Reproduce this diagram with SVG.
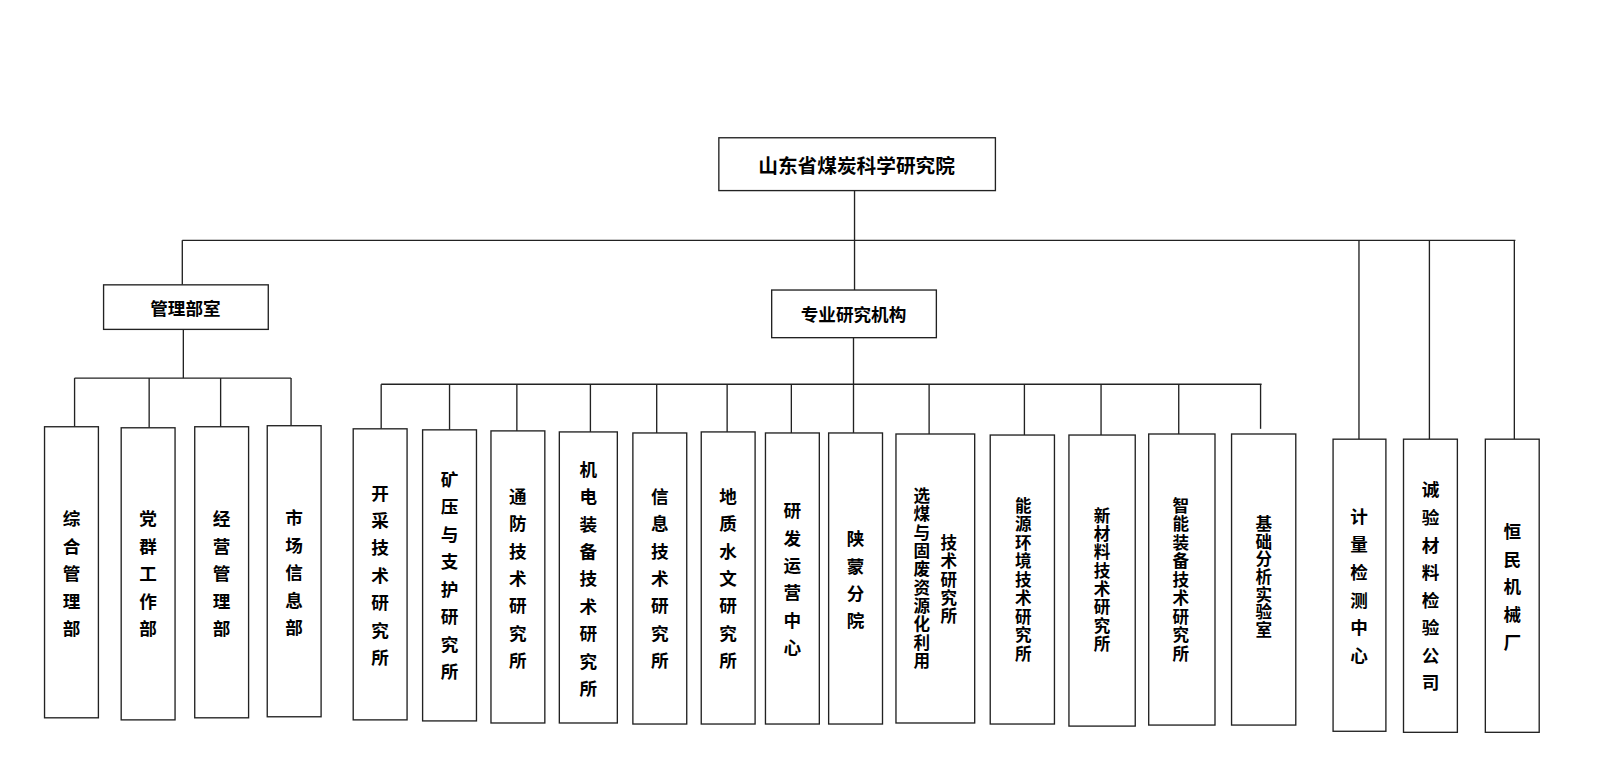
<svg xmlns="http://www.w3.org/2000/svg" width="1621" height="778" viewBox="0 0 1621 778">
<style>
rect{fill:#fff;stroke:#222;stroke-width:1.3}
line{stroke:#222;stroke-width:1.3}
text{font-family:"Noto Sans CJK SC",sans-serif;font-weight:bold;font-size:17px;fill:#000;text-anchor:middle;dominant-baseline:central}
.d text{font-size:16px}
</style>
<rect x="0" y="0" width="1621" height="778" style="fill:#fff;stroke:none"/>
<g transform="scale(1.0358)">
<g id="connectors">
<line x1="825" y1="184" x2="825" y2="232"/>
<line x1="176" y1="232" x2="1463" y2="232"/>
<line x1="176" y1="232" x2="176" y2="275"/>
<line x1="825" y1="232" x2="825" y2="280"/>
<line x1="1312" y1="232" x2="1312" y2="424"/>
<line x1="1380" y1="232" x2="1380" y2="424"/>
<line x1="1462" y1="232" x2="1462" y2="424"/>
<line x1="177" y1="318" x2="177" y2="365"/>
<line x1="72" y1="365" x2="281" y2="365"/>
<line x1="72" y1="365" x2="72" y2="412"/>
<line x1="144" y1="365" x2="144" y2="413"/>
<line x1="213" y1="365" x2="213" y2="412"/>
<line x1="281" y1="365" x2="281" y2="411"/>
<line x1="824" y1="326" x2="824" y2="371"/>
<line x1="368" y1="371" x2="1218" y2="371"/>
<line x1="368" y1="371" x2="368" y2="414"/>
<line x1="434" y1="371" x2="434" y2="415"/>
<line x1="499" y1="371" x2="499" y2="416"/>
<line x1="570" y1="371" x2="570" y2="417"/>
<line x1="634" y1="371" x2="634" y2="418"/>
<line x1="702" y1="371" x2="702" y2="417"/>
<line x1="764" y1="371" x2="764" y2="418"/>
<line x1="824" y1="371" x2="824" y2="418"/>
<line x1="897" y1="371" x2="897" y2="419"/>
<line x1="989" y1="371" x2="989" y2="420"/>
<line x1="1063" y1="371" x2="1063" y2="420"/>
<line x1="1138" y1="371" x2="1138" y2="419"/>
<line x1="1217" y1="371" x2="1217" y2="414"/>
</g>
<g id="root"><rect x="694" y="133" width="267" height="51"/><text x="827" y="159" style="font-size:19px">山东省煤炭科学研究院</text></g>
<g id="mgmt"><rect x="100" y="275" width="159" height="43"/><text x="179" y="297">管理部室</text></g>
<g id="research"><rect x="745" y="280" width="159" height="46"/><text x="824" y="303">专业研究机构</text></g>
<g id="n1"><rect x="43" y="412" width="52" height="281"/><text x="69" y="500">综</text><text x="69" y="526.5">合</text><text x="69" y="553">管</text><text x="69" y="579.5">理</text><text x="69" y="606">部</text></g>
<g id="n2"><rect x="117" y="413" width="52" height="282"/><text x="143" y="500">党</text><text x="143" y="526.5">群</text><text x="143" y="553">工</text><text x="143" y="579.5">作</text><text x="143" y="606">部</text></g>
<g id="n3"><rect x="188" y="412" width="52" height="281"/><text x="214" y="500">经</text><text x="214" y="526.5">营</text><text x="214" y="553">管</text><text x="214" y="579.5">理</text><text x="214" y="606">部</text></g>
<g id="n4"><rect x="258" y="411" width="52" height="281"/><text x="284" y="499">市</text><text x="284" y="525.5">场</text><text x="284" y="552">信</text><text x="284" y="578.5">息</text><text x="284" y="605">部</text></g>
<g id="r1"><rect x="341" y="414" width="52" height="281"/><text x="367" y="475">开</text><text x="367" y="501.5">采</text><text x="367" y="528">技</text><text x="367" y="554.5">术</text><text x="367" y="581">研</text><text x="367" y="607.5">究</text><text x="367" y="634">所</text></g>
<g id="r2"><rect x="408" y="415" width="52" height="281"/><text x="434" y="462">矿</text><text x="434" y="488.5">压</text><text x="434" y="515">与</text><text x="434" y="541.5">支</text><text x="434" y="568">护</text><text x="434" y="594.5">研</text><text x="434" y="621">究</text><text x="434" y="647.5">所</text></g>
<g id="r3"><rect x="474" y="416" width="52" height="282"/><text x="500" y="478">通</text><text x="500" y="504.5">防</text><text x="500" y="531">技</text><text x="500" y="557.5">术</text><text x="500" y="584">研</text><text x="500" y="610.5">究</text><text x="500" y="637">所</text></g>
<g id="r4"><rect x="540" y="417" width="56" height="281"/><text x="568" y="452">机</text><text x="568" y="478.5">电</text><text x="568" y="505">装</text><text x="568" y="531.5">备</text><text x="568" y="558">技</text><text x="568" y="584.5">术</text><text x="568" y="611">研</text><text x="568" y="637.5">究</text><text x="568" y="664">所</text></g>
<g id="r5"><rect x="611" y="418" width="52" height="281"/><text x="637" y="478">信</text><text x="637" y="504.5">息</text><text x="637" y="531">技</text><text x="637" y="557.5">术</text><text x="637" y="584">研</text><text x="637" y="610.5">究</text><text x="637" y="637">所</text></g>
<g id="r6"><rect x="677" y="417" width="52" height="282"/><text x="703" y="478">地</text><text x="703" y="504.5">质</text><text x="703" y="531">水</text><text x="703" y="557.5">文</text><text x="703" y="584">研</text><text x="703" y="610.5">究</text><text x="703" y="637">所</text></g>
<g id="r7"><rect x="739" y="418" width="52" height="281"/><text x="765" y="492">研</text><text x="765" y="518.5">发</text><text x="765" y="545">运</text><text x="765" y="571.5">营</text><text x="765" y="598">中</text><text x="765" y="624.5">心</text></g>
<g id="r8"><rect x="800" y="418" width="52" height="281"/><text x="826" y="519">陕</text><text x="826" y="545.5">蒙</text><text x="826" y="572">分</text><text x="826" y="598.5">院</text></g>
<g id="r9" class="d"><rect x="865" y="419" width="76" height="279"/>
<text x="890" y="478">选</text><text x="890" y="495.7">煤</text><text x="890" y="513.4">与</text><text x="890" y="531.1">固</text><text x="890" y="548.8">废</text><text x="890" y="566.5">资</text><text x="890" y="584.2">源</text><text x="890" y="601.9">化</text><text x="890" y="619.6">利</text><text x="890" y="637.3">用</text>
<text x="916" y="523">技</text><text x="916" y="540.8">术</text><text x="916" y="558.6">研</text><text x="916" y="576.4">究</text><text x="916" y="594.2">所</text></g>
<g id="r10" class="d"><rect x="956" y="420" width="62" height="279"/><text x="988" y="487.5">能</text><text x="988" y="505.3">源</text><text x="988" y="523.1">环</text><text x="988" y="540.9">境</text><text x="988" y="558.7">技</text><text x="988" y="576.5">术</text><text x="988" y="594.3">研</text><text x="988" y="612.1">究</text><text x="988" y="630">所</text></g>
<g id="r11" class="d"><rect x="1032" y="420" width="64" height="281"/><text x="1064" y="497">新</text><text x="1064" y="514.7">材</text><text x="1064" y="532.4">料</text><text x="1064" y="550.1">技</text><text x="1064" y="567.8">术</text><text x="1064" y="585.5">研</text><text x="1064" y="603.2">究</text><text x="1064" y="621">所</text></g>
<g id="r12" class="d"><rect x="1109" y="419" width="64" height="281"/><text x="1140" y="487.5">智</text><text x="1140" y="505.3">能</text><text x="1140" y="523.1">装</text><text x="1140" y="540.9">备</text><text x="1140" y="558.7">技</text><text x="1140" y="576.5">术</text><text x="1140" y="594.3">研</text><text x="1140" y="612.1">究</text><text x="1140" y="630">所</text></g>
<g id="r13" class="d"><rect x="1189" y="419" width="62" height="281"/><text x="1220" y="505">基</text><text x="1220" y="522">础</text><text x="1220" y="539">分</text><text x="1220" y="556">析</text><text x="1220" y="573">实</text><text x="1220" y="590">验</text><text x="1220" y="607">室</text></g>
<g id="s1"><rect x="1287" y="424" width="51" height="282"/><text x="1312" y="498">计</text><text x="1312" y="524.8">量</text><text x="1312" y="551.6">检</text><text x="1312" y="578.4">测</text><text x="1312" y="605.2">中</text><text x="1312" y="632">心</text></g>
<g id="s2"><rect x="1355" y="424" width="52" height="283"/><text x="1381" y="472">诚</text><text x="1381" y="498.6">验</text><text x="1381" y="525.2">材</text><text x="1381" y="551.8">料</text><text x="1381" y="578.4">检</text><text x="1381" y="605">验</text><text x="1381" y="631.6">公</text><text x="1381" y="658">司</text></g>
<g id="s3"><rect x="1434" y="424" width="52" height="283"/><text x="1460" y="512">恒</text><text x="1460" y="538.8">民</text><text x="1460" y="565.6">机</text><text x="1460" y="592.4">械</text><text x="1460" y="619">厂</text></g>
</g>
</svg>
